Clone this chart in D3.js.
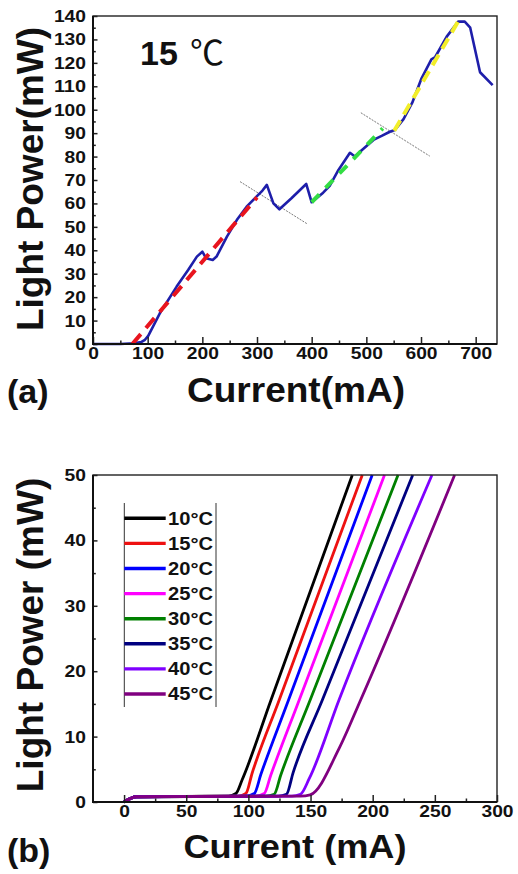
<!DOCTYPE html>
<html>
<head>
<meta charset="utf-8">
<script src="https://cdn.jsdelivr.net/npm/d3@7"></script>
<style>
body{margin:0;background:#fff}
svg text{font-family:"Liberation Sans",Arial,sans-serif;font-weight:bold;fill:#111}
</style>
</head>
<body>
<div class="fig"></div>
<script>
// ---- panel (a): light power vs current at 15 C ----
var currentA = [0, 50, 75, 88, 95, 101, 122, 153, 174, 190, 200, 207, 219, 226, 245, 263, 281, 299, 310, 318, 330, 341, 363, 390, 400, 421, 433, 449, 470, 479, 492, 513, 528, 543, 552, 568, 584, 601, 619, 626, 647, 668, 680, 690, 708, 731]
var powerA   = [0, 0, 0.3, 0.8, 1.8, 3.5, 13, 24.5, 31.6, 37.3, 39.4, 36.6, 35.9, 37.3, 45.8, 52.9, 58.6, 62.9, 65.5, 67.9, 60, 57.5, 62.2, 68.3, 60.5, 64.6, 67.5, 74.3, 81.6, 80, 82.8, 87.1, 88.8, 90.6, 91.3, 96, 103, 113.4, 121.5, 122.5, 131.2, 137.6, 137.6, 135, 116, 110.5]

var redFitCurrent = [72, 300],  redFitPower = [0, 62.6]
var greenFitCurrent = [400, 530], greenFitPower = [60.5, 92]
var yellowFitCurrent = [551, 670], yellowFitPower = [91, 138.5]
var guide1Current = [269, 391], guide1Power = [69.3, 51.4]
var guide2Current = [490, 616], guide2Power = [98.7, 80.2]

var xTicksA = [0, 100, 200, 300, 400, 500, 600, 700]
var xMinorA = [50, 150, 250, 350, 450, 550, 650]
var yTicksA = [0, 10, 20, 30, 40, 50, 60, 70, 80, 90, 100, 110, 120, 130, 140]
var yMinorA = [5, 15, 25, 35, 45, 55, 65, 75, 85, 95, 105, 115, 125, 135]

// ---- panel (b): light power vs current, several temperatures ----
var tempLabels = ["10°C", "15°C", "20°C", "25°C", "30°C", "35°C", "40°C", "45°C"]
var current10 = [0, 10, 84, 90, 95, 118.2, 183.6],      power10 = [0, 0.8, 0.9, 1.3, 3.4, 15.6, 50]
var current15 = [0, 10, 92, 98, 103, 124.8, 191.6],     power15 = [0, 0.8, 0.9, 1.3, 4.4, 15.6, 50]
var current20 = [0, 10, 98, 104.8, 110, 132.3, 199.6],  power20 = [0, 0.8, 0.9, 1.3, 4.2, 15.6, 50]
var current25 = [0, 10, 106, 112.8, 118, 140.9, 209.5], power25 = [0, 0.8, 0.9, 1.3, 4.1, 15.6, 50]
var current30 = [0, 10, 114, 120.8, 126, 149.7, 220.4], power30 = [0, 0.8, 0.9, 1.2, 4.1, 15.6, 50]
var current35 = [0, 10, 124, 130.7, 136, 159.5, 232.2], power35 = [0, 0.8, 0.9, 1.2, 4.5, 15.6, 50]
var current40 = [0, 10, 135, 142, 149, 172.9, 247.7],   power40 = [0, 0.8, 0.9, 1.2, 3.6, 15.6, 50]
var current45 = [0, 10, 142, 149.7, 173, 190.3, 265.9], power45 = [0, 0.8, 0.9, 1.1, 8.2, 15.6, 50]

var xTicksB = [0, 50, 100, 150, 200, 250, 300]
var xMinorB = [25, 75, 125, 175, 225, 275]
var yTicksB = [0, 10, 20, 30, 40, 50]
var yMinorB = [5, 15, 25, 35, 45]

var colorsB = ["#000000", "#ee1111", "#0000ff", "#ff00ff", "#008000", "#000080", "#7f00ff", "#800080"]

var width = 518, height = 874

var svg = d3.select(".fig").append("svg")
    .attr("width", width)
    .attr("height", height)

function zip(xs, ys){
  return xs.map(function(d, i){ return [d, ys[i]] })
}

function drawAxes(x, y, xMajor, xMinor, yMajor, yMinor){
  var bottom = y.range()[0], left = x.range()[0]

  var gx = svg.append("g").attr("transform", "translate(0," + bottom + ")")
      .call(d3.axisBottom(x).tickValues(xMajor).tickSize(-7).tickPadding(3).tickFormat(d3.format("d")))
  svg.append("g").attr("transform", "translate(0," + bottom + ")")
      .call(d3.axisBottom(x).tickValues(xMinor).tickSize(-3.5).tickFormat(""))

  var gy = svg.append("g").attr("transform", "translate(" + left + ",0)")
      .call(d3.axisLeft(y).tickValues(yMajor).tickSize(-4.5).tickPadding(7).tickFormat(d3.format("d")))
  svg.append("g").attr("transform", "translate(" + left + ",0)")
      .call(d3.axisLeft(y).tickValues(yMinor).tickSize(-2.8).tickFormat(""))

  svg.selectAll(".domain").remove()
  svg.selectAll(".tick line").attr("stroke", "#222").attr("stroke-width", 1.5)

  ;[gx, gy].forEach(function(g){
    g.attr("font-size", 17)
    g.selectAll("text")
      .attr("textLength", function(d){ return String(d).length * 10.7 })
      .attr("lengthAdjust", "spacingAndGlyphs")
  })

  var x1 = x.range()[1], top = y.range()[1]
  svg.append("rect")
      .attr("x", left).attr("y", top)
      .attr("width", x1 - left).attr("height", bottom - top)
      .attr("fill", "none").attr("stroke", "#222").attr("stroke-width", 1.4)
  svg.append("path")
      .attr("d", "M" + left + "," + top + "V" + bottom + "H" + x1)
      .attr("fill", "none").attr("stroke", "#111").attr("stroke-width", 2)
}

// ================= (a) =================
var xA = d3.scaleLinear().domain([0, 739]).range([93, 497])
var yA = d3.scaleLinear().domain([0, 140]).range([344, 16])

var lineA = d3.line()
    .x(function(d){ return xA(d[0]) })
    .y(function(d){ return yA(d[1]) })

svg.append("path")
    .datum(zip(guide1Current, guide1Power))
    .attr("d", lineA)
    .attr("fill", "none").attr("stroke", "#555").attr("stroke-width", 0.8)
    .attr("stroke-dasharray", "2,1.2")
svg.append("path")
    .datum(zip(guide2Current, guide2Power))
    .attr("d", lineA)
    .attr("fill", "none").attr("stroke", "#555").attr("stroke-width", 0.8)
    .attr("stroke-dasharray", "2,1.2")

svg.append("path")
    .datum(zip(currentA, powerA))
    .attr("d", lineA)
    .attr("fill", "none")
    .attr("stroke", "#1e1eaa")
    .attr("stroke-width", 2.6)
    .attr("stroke-linejoin", "round")

svg.append("path")
    .datum(zip(redFitCurrent, redFitPower))
    .attr("d", lineA)
    .attr("fill", "none").attr("stroke", "#e8141e").attr("stroke-width", 4)
    .attr("stroke-dasharray", "13,8")
svg.append("path")
    .datum(zip(greenFitCurrent, greenFitPower))
    .attr("d", lineA)
    .attr("fill", "none").attr("stroke", "#33dd44").attr("stroke-width", 4)
    .attr("stroke-dasharray", "11,9")
svg.append("path")
    .datum(zip(yellowFitCurrent, yellowFitPower))
    .attr("d", lineA)
    .attr("fill", "none").attr("stroke", "#f2ee2a").attr("stroke-width", 4)
    .attr("stroke-dasharray", "12,7")

drawAxes(xA, yA, xTicksA, xMinorA, yTicksA, yMinorA)

var tempA = svg.append("text").attr("x", 140).attr("y", 65).attr("font-size", 34)
tempA.append("tspan").text("15")
tempA.append("tspan")
    .attr("x", 190)
    .attr("font-family", "Noto Sans CJK SC")
    .attr("font-weight", "normal")
    .attr("font-size", 34)
    .text("℃")

svg.append("text")
    .attr("transform", "translate(43,179) rotate(-90)")
    .attr("text-anchor", "middle")
    .attr("font-size", 37)
    .text("Light Power(mW)")

svg.append("text")
    .attr("x", 296).attr("y", 402)
    .attr("text-anchor", "middle")
    .attr("font-size", 35)
    .attr("textLength", 218).attr("lengthAdjust", "spacingAndGlyphs")
    .text("Current(mA)")

svg.append("text").attr("x", 7).attr("y", 403).attr("font-size", 34).text("(a)")

// ================= (b) =================
var xB = d3.scaleLinear().domain([-25, 300]).range([93, 497])
var yB = d3.scaleLinear().domain([0, 50]).range([802, 475])

var seriesB = [
  zip(current10, power10), zip(current15, power15), zip(current20, power20), zip(current25, power25),
  zip(current30, power30), zip(current35, power35), zip(current40, power40), zip(current45, power45)
]

var lineB = d3.line()
    .curve(d3.curveMonotoneX)
    .x(function(d){ return xB(d[0]) })
    .y(function(d){ return yB(d[1]) })

svg.append("g").selectAll(".curve")
    .data(seriesB)
  .enter().append("path")
    .attr("class", "curve")
    .attr("d", lineB)
    .attr("fill", "none")
    .attr("stroke", function(d, i){ return colorsB[i] })
    .attr("stroke-width", 2.8)

drawAxes(xB, yB, xTicksB, xMinorB, yTicksB, yMinorB)

// legend
var legend = svg.append("g").attr("transform", "translate(124.3,0)")
legend.append("line").attr("x1", 0).attr("x2", 0).attr("y1", 503).attr("y2", 707)
    .attr("stroke", "#333").attr("stroke-width", 1)
legend.append("line").attr("x1", 91.7).attr("x2", 91.7).attr("y1", 503).attr("y2", 707)
    .attr("stroke", "#333").attr("stroke-width", 1)

var items = legend.selectAll(".item")
    .data(tempLabels)
  .enter().append("g")
    .attr("class", "item")
    .attr("transform", function(d, i){ return "translate(0," + (518.3 + i * 25.1) + ")" })
items.append("line")
    .attr("x1", 0).attr("x2", 41.4)
    .attr("stroke", function(d, i){ return colorsB[i] })
    .attr("stroke-width", 3.4)
items.append("text")
    .attr("x", 43.7).attr("dy", "0.36em")
    .attr("font-size", 18)
    .attr("textLength", 45).attr("lengthAdjust", "spacingAndGlyphs")
    .text(function(d){ return d })

svg.append("text")
    .attr("transform", "translate(43,635) rotate(-90)")
    .attr("text-anchor", "middle")
    .attr("font-size", 37)
    .text("Light Power (mW)")

svg.append("text")
    .attr("x", 295).attr("y", 858)
    .attr("text-anchor", "middle")
    .attr("font-size", 34)
    .attr("textLength", 223).attr("lengthAdjust", "spacingAndGlyphs")
    .text("Current (mA)")

svg.append("text").attr("x", 7).attr("y", 862).attr("font-size", 34).text("(b)")
</script>
</body>
</html>
